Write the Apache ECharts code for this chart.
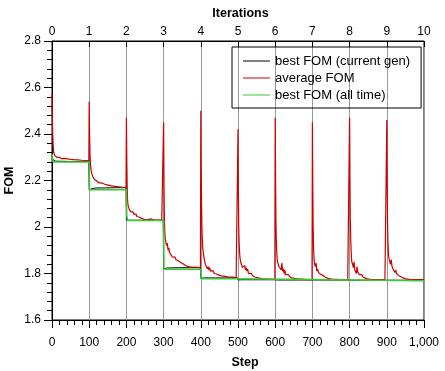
<!DOCTYPE html>
<html><head><meta charset="utf-8">
<script src="https://cdn.jsdelivr.net/npm/echarts@6/dist/echarts.min.js"></script>
<style>html,body{margin:0;padding:0;background:#fff}#c{width:445px;height:371px}</style>
</head><body><div id="c"></div>
<script>
// step offsets within each 100-step iteration
const stepOffsets = [0,1,2,3,4,5,6,8,10,12,14,16,18,20,22,24,26,28,30,33,36,39,42,45,48,52,56,60,65,70,75,80,85,90,95,99];
// average FOM per iteration
const avgIt0 = [2.57,2.47,2.40,2.355,2.33,2.318,2.312,2.306,2.302,2.305,2.299,2.301,2.297,2.300,2.296,2.298,2.294,2.297,2.293,2.295,2.292,2.294,2.291,2.292,2.290,2.291,2.289,2.290,2.288,2.289,2.287,2.287,2.286,2.286,2.285,2.285];
const avgIt1 = [2.54,2.40,2.32,2.28,2.26,2.245,2.235,2.225,2.215,2.21,2.205,2.20,2.21,2.198,2.195,2.20,2.19,2.192,2.188,2.19,2.183,2.186,2.18,2.182,2.178,2.18,2.176,2.177,2.174,2.175,2.172,2.173,2.171,2.171,2.17,2.17];
const avgIt2 = [2.47,2.30,2.18,2.12,2.10,2.09,2.085,2.075,2.07,2.065,2.07,2.06,2.065,2.055,2.06,2.05,2.055,2.045,2.048,2.04,2.042,2.037,2.036,2.034,2.033,2.032,2.031,2.031,2.035,2.03,2.03,2.03,2.03,2.03,2.03,2.03];
const avgIt3 = [2.45,2.20,2.05,1.99,1.96,1.945,1.935,1.92,1.93,1.90,1.91,1.89,1.895,1.88,1.885,1.87,1.878,1.866,1.872,1.86,1.862,1.855,1.858,1.848,1.845,1.842,1.838,1.833,1.831,1.829,1.828,1.827,1.826,1.826,1.825,1.825];
const avgIt4 = [2.50,2.25,2.10,2.00,1.95,1.92,1.90,1.875,1.855,1.84,1.835,1.845,1.82,1.83,1.815,1.825,1.81,1.818,1.806,1.812,1.80,1.806,1.798,1.80,1.793,1.795,1.79,1.789,1.788,1.786,1.785,1.784,1.784,1.783,1.782,1.782];
const avgIt5 = [2.42,2.15,2.00,1.93,1.90,1.875,1.86,1.845,1.835,1.825,1.83,1.82,1.835,1.815,1.825,1.81,1.82,1.80,1.808,1.795,1.80,1.79,1.795,1.785,1.788,1.782,1.78,1.779,1.778,1.777,1.776,1.776,1.775,1.775,1.775,1.775];
const avgIt6 = [2.47,2.20,2.02,1.94,1.90,1.87,1.855,1.84,1.83,1.825,1.835,1.815,1.845,1.81,1.82,1.80,1.815,1.795,1.80,1.79,1.795,1.785,1.79,1.781,1.783,1.779,1.778,1.777,1.776,1.776,1.775,1.775,1.774,1.774,1.774,1.774];
const avgIt7 = [2.45,2.18,2.00,1.92,1.88,1.85,1.84,1.83,1.845,1.81,1.82,1.805,1.80,1.81,1.797,1.80,1.795,1.792,1.79,1.785,1.783,1.78,1.779,1.778,1.777,1.776,1.775,1.775,1.775,1.774,1.774,1.774,1.774,1.774,1.774,1.774];
const avgIt8 = [2.47,2.20,2.03,1.95,1.90,1.87,1.85,1.84,1.825,1.85,1.815,1.82,1.80,1.83,1.805,1.81,1.795,1.80,1.79,1.795,1.785,1.788,1.78,1.779,1.777,1.776,1.775,1.775,1.774,1.774,1.774,1.774,1.774,1.774,1.774,1.774];
const avgIt9 = [2.46,2.20,2.02,1.94,1.90,1.875,1.865,1.85,1.84,1.86,1.83,1.835,1.815,1.82,1.805,1.815,1.80,1.805,1.795,1.79,1.793,1.785,1.782,1.78,1.778,1.777,1.776,1.775,1.775,1.774,1.774,1.774,1.774,1.774,1.774,1.774];
const avgIterations = [avgIt0,avgIt1,avgIt2,avgIt3,avgIt4,avgIt5,avgIt6,avgIt7,avgIt8,avgIt9];

// best FOM (current gen)
const bestOffsets = [0,2,5,10,20,40,70,99];
const bestIt0 = [2.315,2.29,2.285,2.283,2.283,2.282,2.282,2.282];
const bestIt1 = [2.16,2.162,2.165,2.166,2.168,2.168,2.169,2.169];
const bestIt2 = [2.029,2.029,2.029,2.029,2.029,2.029,2.029,2.029];
const bestIt3 = [1.82,1.822,1.823,1.824,1.824,1.825,1.825,1.825];
const bestIt4 = [1.78,1.781,1.781,1.781,1.781,1.781,1.781,1.781];
const bestIt5 = [1.772,1.773,1.773,1.773,1.773,1.773,1.773,1.773];
const bestIt6 = [1.772,1.772,1.772,1.772,1.772,1.772,1.772,1.772];
const bestIt7 = [1.772,1.772,1.772,1.772,1.772,1.772,1.772,1.772];
const bestIt8 = [1.771,1.771,1.771,1.771,1.771,1.771,1.771,1.771];
const bestIt9 = [1.771,1.771,1.771,1.771,1.771,1.771,1.771,1.771];
const bestIterations = [bestIt0,bestIt1,bestIt2,bestIt3,bestIt4,bestIt5,bestIt6,bestIt7,bestIt8,bestIt9];

// best FOM (all time)
const allTimeSteps  = [0,1,3,100,101,200,201,203,300,301,400,401,500,501,1000];
const allTimeValues = [2.315,2.30,2.28,2.28,2.16,2.16,2.05,2.028,2.028,1.818,1.818,1.777,1.777,1.771,1.769];

const stepTicks = [0,100,200,300,400,500,600,700,800,900,1000];
const iterTicks = [0,1,2,3,4,5,6,7,8,9,10];
const fomTicks = [1.6,1.8,2,2.2,2.4,2.6,2.8];

const avgData = [], bestData = [];
avgIterations.forEach((arr,i)=>arr.forEach((v,j)=>avgData.push([i*100+stepOffsets[j], v])));
bestIterations.forEach((arr,i)=>arr.forEach((v,j)=>bestData.push([i*100+bestOffsets[j], v])));
const allTimeData = allTimeSteps.map((s,i)=>[s, allTimeValues[i]]);

const FONT = 'Liberation Sans';
const chart = echarts.init(document.getElementById('c'), null, {renderer:'canvas'});
chart.setOption({
  animation:false,
  backgroundColor:'#fff',
  textStyle:{fontFamily:FONT},
  grid:{left:52,right:21,top:41,bottom:51,containLabel:false,outerBoundsMode:'none',show:true,borderColor:'#000',borderWidth:1,backgroundColor:'transparent'},
  legend:{
    left:232, top:47, orient:'vertical', icon:'rect',
    borderColor:'#000', borderWidth:1, borderRadius:0,
    padding:[6,11,5,11], itemGap:1, itemWidth:27, itemHeight:1,
    textStyle:{fontFamily:FONT,fontSize:13,color:'#000',lineHeight:16},
    data:['best FOM (current gen)','average FOM','best FOM (all time)']
  },
  xAxis:[{
    type:'value', min:stepTicks[0], max:stepTicks[stepTicks.length-1], interval:100, position:'bottom',
    name:'Step', nameLocation:'middle', nameGap:36, nameMoveOverlap:false,
    nameTextStyle:{fontFamily:FONT,fontSize:12.5,fontWeight:'bold',color:'#000',padding:[0,0,0,14]},
    axisLine:{show:true,lineStyle:{color:'#000',width:1}},
    axisTick:{show:true,inside:false,length:8,lineStyle:{color:'#000'}},
    minorTick:{show:true,splitNumber:5,length:5,lineStyle:{color:'#000'}},
    axisLabel:{margin:17,fontFamily:FONT,fontSize:12,color:'#000',formatter:v=>v.toLocaleString('en-US')},
    splitLine:{show:true,lineStyle:{color:'#999',width:1}}
  },{
    type:'value', min:iterTicks[0], max:iterTicks[iterTicks.length-1], interval:1, position:'top',
    name:'Iterations', nameLocation:'middle', nameGap:21, nameMoveOverlap:false,
    nameTextStyle:{fontFamily:FONT,fontSize:12.5,fontWeight:'bold',color:'#000',padding:[0,0,0,5]},
    axisLine:{show:true,lineStyle:{color:'#000',width:1}},
    axisTick:{show:true,inside:true,length:6,lineStyle:{color:'#000'}},
    axisLabel:{margin:3,fontFamily:FONT,fontSize:12,color:'#000'},
    splitLine:{show:false}
  }],
  yAxis:{
    type:'value', min:fomTicks[0], max:fomTicks[fomTicks.length-1], interval:0.2,
    name:'FOM', nameLocation:'middle', nameGap:36, nameRotate:90, nameMoveOverlap:false,
    nameTextStyle:{fontFamily:FONT,fontSize:12.5,fontWeight:'bold',color:'#000'},
    axisLine:{show:true,lineStyle:{color:'#000',width:1}},
    axisTick:{show:true,inside:false,length:8,lineStyle:{color:'#000'}},
    minorTick:{show:true,splitNumber:5,length:5,lineStyle:{color:'#000'}},
    axisLabel:{margin:11,fontFamily:FONT,fontSize:12,color:'#000',formatter:v=>String(+v.toFixed(2))},
    splitLine:{show:false}
  },
  series:[
    {name:'best FOM (current gen)',type:'line',xAxisIndex:0,data:bestData,symbol:'none',lineStyle:{color:'#000',width:1},itemStyle:{color:'#000'}},
    {name:'average FOM',type:'line',xAxisIndex:0,data:avgData,symbol:'none',lineStyle:{color:'#cc0000',width:1.2},itemStyle:{color:'#cc0000'}},
    {name:'best FOM (all time)',type:'line',xAxisIndex:0,data:allTimeData,symbol:'none',lineStyle:{color:'#33cc33',width:1.5},itemStyle:{color:'#33cc33'}}
  ]
});
</script></body></html>
